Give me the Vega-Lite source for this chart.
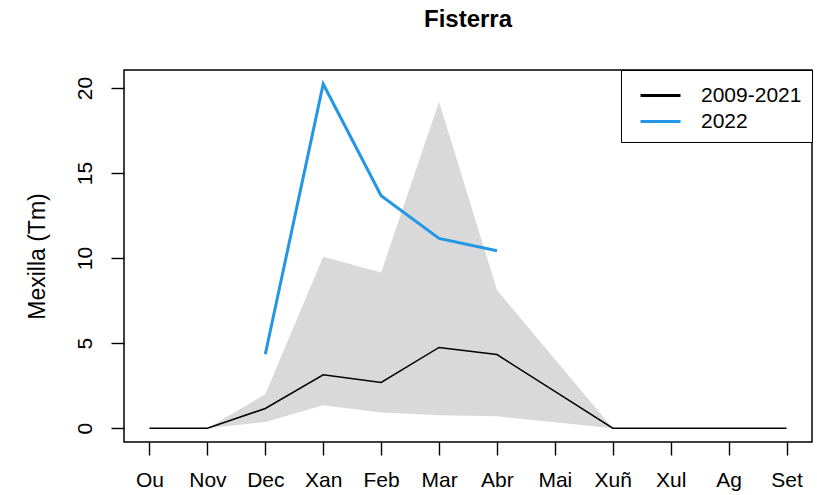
{
  "$schema": "https://vega.github.io/schema/vega-lite/v6.json",
  "width": 688,
  "height": 372,
  "autosize": {"type": "none"},
  "padding": {"left": 124, "top": 70, "right": 5, "bottom": 53},
  "background": "white",
  "title": {
    "text": "Fisterra",
    "font": "Liberation Sans",
    "fontSize": 24,
    "fontWeight": "bold",
    "color": "black",
    "anchor": "middle",
    "baseline": "alphabetic",
    "offset": 19
  },
  "config": {
    "view": {"stroke": "black", "strokeWidth": 1.5},
    "axis": {
      "labelFont": "Liberation Sans",
      "titleFont": "Liberation Sans",
      "labelFontSize": 21,
      "titleFontSize": 23,
      "labelColor": "black",
      "titleColor": "black",
      "titleFontWeight": "normal",
      "domain": false,
      "grid": false,
      "tickColor": "black",
      "tickSize": 13,
      "tickWidth": 1.4
    }
  },
  "data": {
    "values": [
      {"m": 0, "mes": "Ou", "lo": 0, "hi": 0, "m0921": 0, "y2022": null},
      {"m": 1, "mes": "Nov", "lo": 0, "hi": 0, "m0921": 0, "y2022": null},
      {"m": 2, "mes": "Dec", "lo": 0.37, "hi": 2.0, "m0921": 1.16, "y2022": 4.35},
      {"m": 3, "mes": "Xan", "lo": 1.35, "hi": 10.08, "m0921": 3.14, "y2022": 20.24},
      {"m": 4, "mes": "Feb", "lo": 0.92, "hi": 9.16, "m0921": 2.69, "y2022": 13.67},
      {"m": 5, "mes": "Mar", "lo": 0.76, "hi": 19.2, "m0921": 4.75, "y2022": 11.16},
      {"m": 6, "mes": "Abr", "lo": 0.7, "hi": 8.12, "m0921": 4.33, "y2022": 10.43},
      {"m": 7, "mes": "Mai", "lo": 0.35, "hi": 4.05, "m0921": 2.17, "y2022": null},
      {"m": 8, "mes": "Xuñ", "lo": 0, "hi": 0, "m0921": 0, "y2022": null},
      {"m": 9, "mes": "Xul", "lo": 0, "hi": 0, "m0921": 0, "y2022": null},
      {"m": 10, "mes": "Ag", "lo": 0, "hi": 0, "m0921": 0, "y2022": null},
      {"m": 11, "mes": "Set", "lo": 0, "hi": 0, "m0921": 0, "y2022": null}
    ]
  },
  "encoding": {
    "x": {
      "field": "m",
      "type": "quantitative",
      "scale": {"domain": [-0.44, 11.44], "nice": false, "zero": false},
      "axis": {
        "title": null,
        "values": [0, 1, 2, 3, 4, 5, 6, 7, 8, 9, 10, 11],
        "labelExpr": "['Ou','Nov','Dec','Xan','Feb','Mar','Abr','Mai','Xuñ','Xul','Ag','Set'][datum.value]",
        "labelPadding": 14,
        "labelFlush": false,
        "labelOverlap": false
      }
    }
  },
  "layer": [
    {
      "mark": {"type": "area", "color": "#d9d9d9", "opacity": 1},
      "encoding": {
        "y": {
          "field": "lo",
          "type": "quantitative",
          "scale": {"domain": [-0.81, 21.06], "nice": false, "zero": false},
          "axis": {
            "title": "Mexilla (Tm)",
            "values": [0, 5, 10, 15, 20],
            "labelAngle": 270,
            "labelAlign": "center",
            "labelBaseline": "bottom",
            "labelPadding": 16,
            "titleAngle": 270,
            "titleX": -87,
            "titleY": 186,
            "titleAlign": "center",
            "titleBaseline": "middle"
          }
        },
        "y2": {"field": "hi"}
      }
    },
    {
      "mark": {"type": "line", "strokeWidth": 3},
      "encoding": {
        "y": {"field": "y2022", "type": "quantitative"},
        "color": {
          "datum": "2022",
          "type": "nominal",
          "scale": {"domain": ["2009-2021", "2022"], "range": ["black", "#2297E6"]},
          "legend": {
            "title": null,
            "orient": "top-right",
            "offset": 0,
            "strokeColor": "black",
            "fillColor": "white",
            "padding": 10,
            "labelFont": "Liberation Sans",
            "labelFontSize": 21,
            "labelColor": "black",
            "labelOffset": 39,
            "symbolType": "M-0.4286,0H2.4286",
            "symbolSize": 784,
            "symbolStrokeWidth": 3,
            "rowPadding": -2
          }
        }
      }
    },
    {
      "mark": {"type": "line", "strokeWidth": 1.5},
      "encoding": {
        "y": {"field": "m0921", "type": "quantitative"},
        "color": {"datum": "2009-2021", "type": "nominal"}
      }
    }
  ]
}
